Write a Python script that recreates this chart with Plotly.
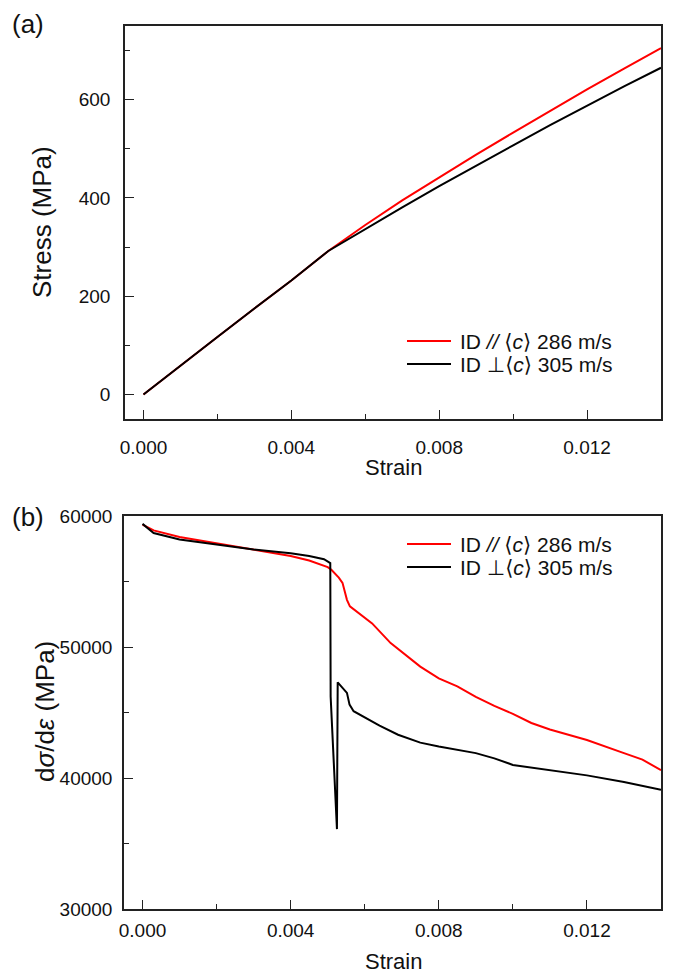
import plotly.graph_objects as go

# ---- Panel (a): stress-strain ----
strain_a = [0.0, 0.001, 0.002, 0.003, 0.004, 0.005, 0.006, 0.007, 0.008, 0.009, 0.010, 0.011, 0.012, 0.013, 0.014]
stress_par = [0, 59, 117, 175, 232, 292, 345, 395, 442, 488, 533, 577, 621, 663, 705]
stress_perp = [0, 59, 117, 175, 232, 292, 337, 381, 424, 466, 507, 548, 588, 627, 665]

# ---- Panel (b): tangent modulus ----
strain_b_par = [0.0, 0.0003, 0.001, 0.002, 0.003, 0.004, 0.0045, 0.005, 0.0051, 0.0053, 0.0054,
                0.00552, 0.0056, 0.0062, 0.0067, 0.0075, 0.008, 0.0085, 0.009, 0.0095, 0.010,
                0.0105, 0.011, 0.012, 0.013, 0.0135, 0.014]
mod_par = [59350, 58900, 58400, 57900, 57450, 56950, 56600, 56100, 55900, 55300, 54900,
           53600, 53100, 51800, 50300, 48500, 47600, 47000, 46200, 45500, 44900,
           44200, 43700, 42900, 41900, 41400, 40600]

strain_b_perp = [0.0, 0.0003, 0.001, 0.002, 0.003, 0.004, 0.0045, 0.0049, 0.00507, 0.00508,
                 0.00525, 0.00527, 0.00552, 0.00559, 0.0057, 0.0064, 0.0069, 0.0075, 0.008,
                 0.009, 0.0095, 0.010, 0.011, 0.012, 0.013, 0.014]
mod_perp = [59400, 58700, 58200, 57800, 57450, 57150, 56950, 56700, 56400, 46200,
            36100, 47300, 46500, 45600, 45100, 44000, 43300, 42700, 42400,
            41900, 41500, 41000, 40600, 40200, 39700, 39100]

x_ticks = [0.000, 0.004, 0.008, 0.012]
x_ticklabels = ["0.000", "0.004", "0.008", "0.012"]
ya_ticks = [0, 200, 400, 600]
yb_ticks = [30000, 40000, 50000, 60000]
yb_ticklabels = ["30000", "40000", "50000", "60000"]

name_par = "ID <i>//</i> ⟨<i>c</i>⟩ 286 m/s"
name_perp = "ID ⊥⟨<i>c</i>⟩ 305 m/s"
series_colors = ["#ff0000", "#000000"]

FONT = "Liberation Sans, Arial, DejaVu Sans, sans-serif"
AX = "#222222"
OFF = 8  # default page body margin
W, H = 673 - OFF, 975 - OFF

def px(x):
    return (x - OFF) / W

def py(y):
    return 1 - (y - OFF) / H

fig = go.Figure()
fig.add_trace(go.Scatter(x=strain_a, y=stress_par, mode="lines", name=name_par, showlegend=False,
                         line=dict(color=series_colors[0], width=2), xaxis="x", yaxis="y"))
fig.add_trace(go.Scatter(x=strain_a, y=stress_perp, mode="lines", name=name_perp, showlegend=False,
                         line=dict(color=series_colors[1], width=2), xaxis="x", yaxis="y"))
fig.add_trace(go.Scatter(x=strain_b_par, y=mod_par, mode="lines", name=name_par, showlegend=False,
                         line=dict(color=series_colors[0], width=2), xaxis="x2", yaxis="y2"))
fig.add_trace(go.Scatter(x=strain_b_perp, y=mod_perp, mode="lines", name=name_perp, showlegend=False,
                         line=dict(color=series_colors[1], width=2), xaxis="x2", yaxis="y2"))

def xax(domain, anchor, standoff):
    return dict(domain=domain, anchor=anchor, range=[-0.0005, 0.014],
                tickvals=x_ticks, ticktext=x_ticklabels,
                ticks="inside", ticklen=9, tickwidth=1.3, tickcolor=AX,
                minor=dict(tickvals=[0.002, 0.006, 0.010], ticks="inside", ticklen=5,
                           tickwidth=1.3, tickcolor=AX),
                showline=True, linecolor=AX, linewidth=1.5, mirror=True,
                showgrid=False, zeroline=False, automargin=False,
                ticklabelstandoff=standoff,
                tickfont=dict(size=19, color="#111"))

def yax(domain, anchor, rng, tv, tt, minor_vals, standoff):
    return dict(domain=domain, anchor=anchor, range=rng, tickvals=tv, ticktext=tt,
                ticks="inside", ticklen=9, tickwidth=1.3, tickcolor=AX,
                minor=dict(tickvals=minor_vals, ticks="inside", ticklen=5,
                           tickwidth=1.3, tickcolor=AX),
                showline=True, linecolor=AX, linewidth=1.5, mirror=True,
                showgrid=False, zeroline=False, automargin=False,
                ticklabelstandoff=standoff,
                tickfont=dict(size=19, color="#111"))

annotations = [
    dict(text="(a)", x=px(10), y=py(24), xanchor="left", yanchor="middle",
         font=dict(size=26, color="#111")),
    dict(text="(b)", x=px(10), y=py(517), xanchor="left", yanchor="middle",
         font=dict(size=26, color="#111")),
    dict(text="Strain", x=px(393), y=py(468), xanchor="center", yanchor="middle",
         font=dict(size=22, color="#111")),
    dict(text="Strain", x=px(393), y=py(961), xanchor="center", yanchor="middle",
         font=dict(size=22, color="#111")),
    dict(text="Stress (MPa)", x=px(42), y=py(222), xanchor="center", yanchor="middle",
         textangle=-90, font=dict(size=26, color="#111")),
    dict(text="d<i>σ</i>/d<i>ε</i> (MPa)", x=px(45), y=py(712), xanchor="center",
         yanchor="middle", textangle=-90, font=dict(size=26, color="#111")),
]

shapes = []
legend_rows = [(341, 364), (544, 567)]
for rows in legend_rows:
    for yrow, name, col in zip(rows, [name_par, name_perp], series_colors):
        shapes.append(dict(type="line", xref="paper", yref="paper",
                           x0=px(407), x1=px(451), y0=py(yrow), y1=py(yrow),
                           line=dict(color=col, width=1.8)))
        annotations.append(dict(text=name, x=px(458), y=py(yrow), xanchor="left",
                                yanchor="middle", font=dict(size=21, color="#111")))

for a in annotations:
    a.update(xref="paper", yref="paper", showarrow=False)

fig.update_layout(
    width=W, height=H,
    margin=dict(l=0, r=0, t=0, b=0),
    paper_bgcolor="white", plot_bgcolor="white",
    font=dict(family=FONT, color="#111"),
    xaxis=xax([px(125), px(661)], "y", 10),
    yaxis=yax([py(419), py(26)], "x", [-50, 750], ya_ticks, [str(v) for v in ya_ticks],
              [100, 300, 500, 700], 9),
    xaxis2=xax([px(124), px(661)], "y2", 3),
    yaxis2=yax([py(909), py(516)], "x2", [30000, 60000], yb_ticks, yb_ticklabels,
               [35000, 45000, 55000], 6),
    showlegend=False,
    annotations=annotations,
    shapes=shapes,
)

fig.write_html("out.html")
